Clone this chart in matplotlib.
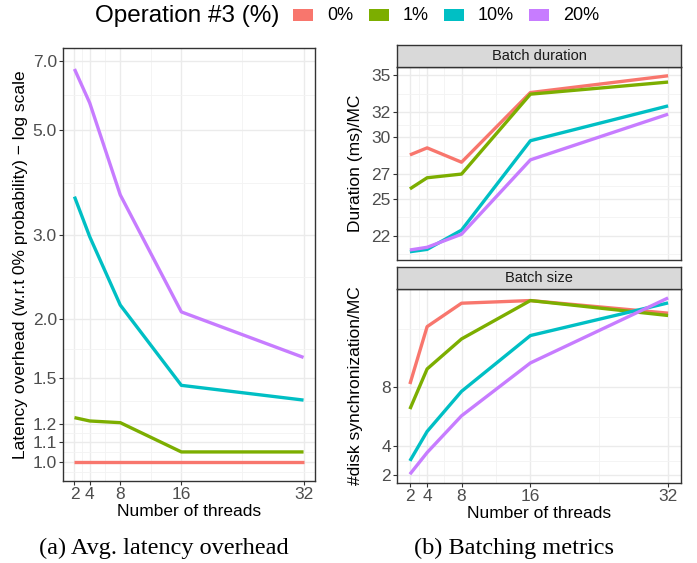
import matplotlib
matplotlib.use("Agg")
import matplotlib.pyplot as plt
import numpy as np
from matplotlib.patches import Rectangle
from matplotlib.ticker import FixedLocator, FixedFormatter, NullFormatter

plt.rcParams['font.family'] = ['Liberation Sans', 'DejaVu Sans']

threads = [2, 4, 8, 16, 32]
groups = ["0%", "1%", "10%", "20%"]
colors = ["#F8766D", "#7CAE00", "#00BFC4", "#C77CFF"]

latency = {
    "0%": [1.0, 1.0, 1.0, 1.0, 1.0],
    "1%": [1.24, 1.22, 1.21, 1.05, 1.05],
    "10%": [3.62, 2.98, 2.14, 1.45, 1.35],
    "20%": [6.72, 5.70, 3.65, 2.07, 1.66],
}
duration = {
    "0%": [28.55, 29.12, 27.96, 33.6, 34.96],
    "1%": [25.8, 26.7, 27.0, 33.47, 34.45],
    "10%": [20.71, 20.9, 22.46, 29.7, 32.52],
    "20%": [20.85, 21.07, 22.13, 28.15, 31.85],
}
batch_size = {
    "0%": [8.23, 12.15, 13.75, 13.93, 13.07],
    "1%": [6.52, 9.26, 11.31, 13.93, 12.91],
    "10%": [2.98, 4.99, 7.73, 11.54, 13.77],
    "20%": [2.07, 3.55, 6.06, 9.67, 14.11],
}

lat_ticks = [1.0, 1.1, 1.2, 1.5, 2.0, 3.0, 5.0, 7.0]
dur_ticks = [22, 25, 27, 30, 32, 35]
size_ticks = [2, 4, 8, 16, 32]

W, H = 697, 563
fig = plt.figure(figsize=(W / 100, H / 100), dpi=100)


def px_axes(left, top, width, height):
    return fig.add_axes([left / W, 1 - (top + height) / H, width / W, height / H])


GRID_MAJ = "#EBEBEB"
GRID_MIN = "#F3F3F3"
TICK_COL = "#4D4D4D"


def style(ax):
    for s in ax.spines.values():
        s.set_color("#333333")
        s.set_linewidth(1.0)
    ax.set_facecolor("white")
    ax.grid(True, which="major", color=GRID_MAJ, linewidth=1.0, zorder=0)
    ax.grid(True, which="minor", color=GRID_MIN, linewidth=0.6, zorder=0)
    ax.tick_params(which="major", colors="#333333", labelcolor=TICK_COL,
                   labelsize=12.5, length=3, width=0.8, pad=1.5)
    ax.tick_params(which="minor", length=0)
    ax.set_axisbelow(True)


def set_xaxis(ax, labels=True):
    ax.set_xlim(0.5, 33.5)
    ax.xaxis.set_major_locator(FixedLocator(threads))
    ax.xaxis.set_minor_locator(FixedLocator([3, 6, 12, 24]))
    if labels:
        ax.set_xticklabels([str(t) for t in threads])
    else:
        ax.set_xticklabels([])
        ax.tick_params(axis="x", which="major", length=0)


# ---------- Left panel ----------
axL = px_axes(63, 48, 252, 433)
style(axL)
axL.set_yscale("log")
for g, c in zip(groups, colors):
    axL.plot(threads, latency[g], color=c, lw=2.4, solid_capstyle="butt", zorder=3)
set_xaxis(axL)
axL.set_ylim(0.912, 7.44)
axL.yaxis.set_major_locator(FixedLocator(lat_ticks))
axL.yaxis.set_major_formatter(FixedFormatter([f"{t:.1f}" for t in lat_ticks]))
lat_minor = [np.sqrt(a * b) for a, b in zip(lat_ticks[:-1], lat_ticks[1:])]
lat_minor += [lat_ticks[0] ** 2 / np.sqrt(lat_ticks[0] * lat_ticks[1])]
axL.yaxis.set_minor_locator(FixedLocator(lat_minor))
axL.yaxis.set_minor_formatter(NullFormatter())
axL.set_xlabel("Number of threads", fontsize=12.5, labelpad=1)
axL.set_ylabel("Latency overhead (w.r.t 0% probability) \u2212 log scale",
               fontsize=12.5, labelpad=3)

# ---------- Right top panel ----------
axT = px_axes(397, 67, 284, 193)
style(axT)
for g, c in zip(groups, colors):
    axT.plot(threads, duration[g], color=c, lw=2.4, solid_capstyle="butt", zorder=3)
set_xaxis(axT, labels=False)
axT.set_ylim(20.04, 35.67)
axT.yaxis.set_major_locator(FixedLocator(dur_ticks))
axT.yaxis.set_minor_locator(FixedLocator([20.5, 23.5, 26, 28.5, 31, 33.5]))
axT.set_ylabel("Duration (ms)/MC", fontsize=12.5)

# ---------- Right bottom panel ----------
axB = px_axes(397, 289, 284, 194)
style(axB)
for g, c in zip(groups, colors):
    axB.plot(threads, batch_size[g], color=c, lw=2.4, solid_capstyle="butt", zorder=3)
set_xaxis(axB)
axB.set_ylim(1.47, 14.72)
axB.yaxis.set_major_locator(FixedLocator(size_ticks))
axB.yaxis.set_minor_locator(FixedLocator([3, 6, 12]))
axB.set_xlabel("Number of threads", fontsize=12.5, labelpad=1)
axB.set_ylabel("#disk synchronization/MC", fontsize=12.5)
axB.yaxis.set_label_coords(-0.118, 0.5)
axT.yaxis.set_label_coords(-0.118, 0.5)

# ---------- Strips ----------
def strip(top, height, text):
    sax = px_axes(397, top, 284, height)
    sax.set_xticks([])
    sax.set_yticks([])
    sax.set_facecolor("#D9D9D9")
    for s in sax.spines.values():
        s.set_color("#333333")
        s.set_linewidth(1.0)
    sax.text(0.5, 0.5, text, ha="center", va="center", fontsize=10.5,
             color="#1A1A1A", transform=sax.transAxes)

strip(45, 22, "Batch duration")
strip(267, 22, "Batch size")

# ---------- Legend ----------
fig.text(95 / W, 1 - 16 / H, "Operation #3 (%)", fontsize=17.5, ha="left", va="center")
key_x = [293, 369, 444, 529]
for g, c, kx in zip(groups, colors, key_x):
    fig.patches.append(Rectangle((kx / W, 1 - 20.7 / H), 20 / W, 11.4 / H,
                                 transform=fig.transFigure, facecolor=c,
                                 edgecolor="none"))
    fig.text((kx + 34) / W, 1 - 16 / H, g, fontsize=13, ha="left", va="center")

# ---------- Captions ----------
fig.text(164 / W, 1 - 548 / H, "(a) Avg. latency overhead", fontsize=17.5,
         ha="center", va="center", family="Liberation Serif")
fig.text(514 / W, 1 - 548 / H, "(b) Batching metrics", fontsize=17.5,
         ha="center", va="center", family="Liberation Serif")

fig.savefig("out.png", dpi=100, facecolor="white")
